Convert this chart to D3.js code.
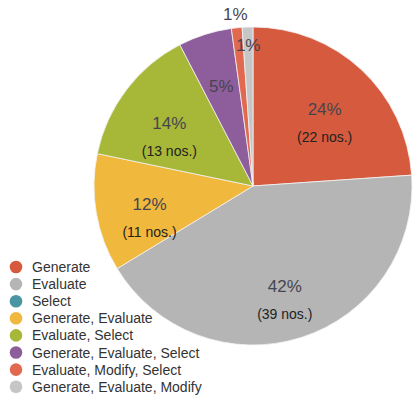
<!DOCTYPE html>
<html>
<head>
<meta charset="utf-8">
<script src="https://cdn.jsdelivr.net/npm/d3@7"></script>
<style>
  html, body { margin: 0; padding: 0; background: #ffffff; }
  svg { display: block; font-family: "Liberation Sans", Arial, Helvetica, sans-serif; }
</style>
</head>
<body>
<svg id="chart" width="414" height="400"></svg>
<script>
// ---- data ----
const categories = [
  "Generate",
  "Evaluate",
  "Select",
  "Generate, Evaluate",
  "Evaluate, Select",
  "Generate, Evaluate, Select",
  "Evaluate, Modify, Select",
  "Generate, Evaluate, Modify"
];
const counts = [22, 39, 0, 11, 13, 5, 1, 1];
const colors = ["#d55a3e", "#b5b5b5", "#4a94a4", "#f0b83c", "#a7b737", "#8e5e9c", "#e0694f", "#c6c6c6"];

// ---- layout ----
const svg = d3.select("#chart");
const cx = 253, cy = 186, r = 159;
const total = d3.sum(counts);
const data = categories.map((c, i) => ({ name: c, value: counts[i], color: colors[i], idx: i }));

const pie = d3.pie().sort(null).value(d => d.value).startAngle(0).endAngle(2 * Math.PI);
const arcs = pie(data);
const arc = d3.arc().innerRadius(0).outerRadius(r);

const g = svg.append("g").attr("transform", `translate(${cx},${cy})`);

g.selectAll("path.slice")
  .data(arcs.filter(a => a.data.value > 0))
  .join("path")
  .attr("class", "slice")
  .attr("d", arc)
  .attr("fill", d => d.data.color)
  .attr("stroke", "#f2f2f2")
  .attr("stroke-width", 0.8);

// label positions
const labelArc = d3.arc().innerRadius(105).outerRadius(105);
const innerSmall = d3.arc().innerRadius(141).outerRadius(141);
const outerSmall = d3.arc().innerRadius(173).outerRadius(173);

const pctFmt = v => Math.round(v / total * 100) + "%";
let smallCount = 0;
arcs.forEach(a => {
  if (a.data.value <= 0) return;
  const share = a.data.value / total;
  let pos;
  if (share < 0.02) {
    pos = (smallCount % 2 === 0) ? outerSmall.centroid(a) : innerSmall.centroid(a);
    smallCount++;
  } else {
    pos = labelArc.centroid(a);
  }
  g.append("text")
    .attr("x", pos[0])
    .attr("y", pos[1])
    .attr("dy", "0.36em")
    .attr("text-anchor", "middle")
    .attr("font-size", 17)
    .attr("fill", "#454550")
    .text(pctFmt(a.data.value));
  if (a.data.value >= 10) {
    g.append("text")
      .attr("x", pos[0])
      .attr("y", pos[1] + 28)
      .attr("dy", "0.36em")
      .attr("text-anchor", "middle")
      .attr("font-size", 14)
      .attr("fill", "#222222")
      .text("(" + a.data.value + " nos.)");
  }
});

// legend
const legend = svg.append("g").attr("transform", "translate(16,267)");
const row = d3.scaleBand().domain(d3.range(categories.length)).range([0, 17.1 * categories.length]);
const items = legend.selectAll("g.item")
  .data(data)
  .join("g")
  .attr("class", "item")
  .attr("transform", (d, i) => `translate(0,${i * 17.1})`);
items.append("circle").attr("r", 6.3).attr("fill", d => d.color);
items.append("text")
  .attr("x", 16)
  .attr("dy", "0.36em")
  .attr("font-size", 14)
  .attr("fill", "#333333")
  .text(d => d.name);
</script>
</body>
</html>
